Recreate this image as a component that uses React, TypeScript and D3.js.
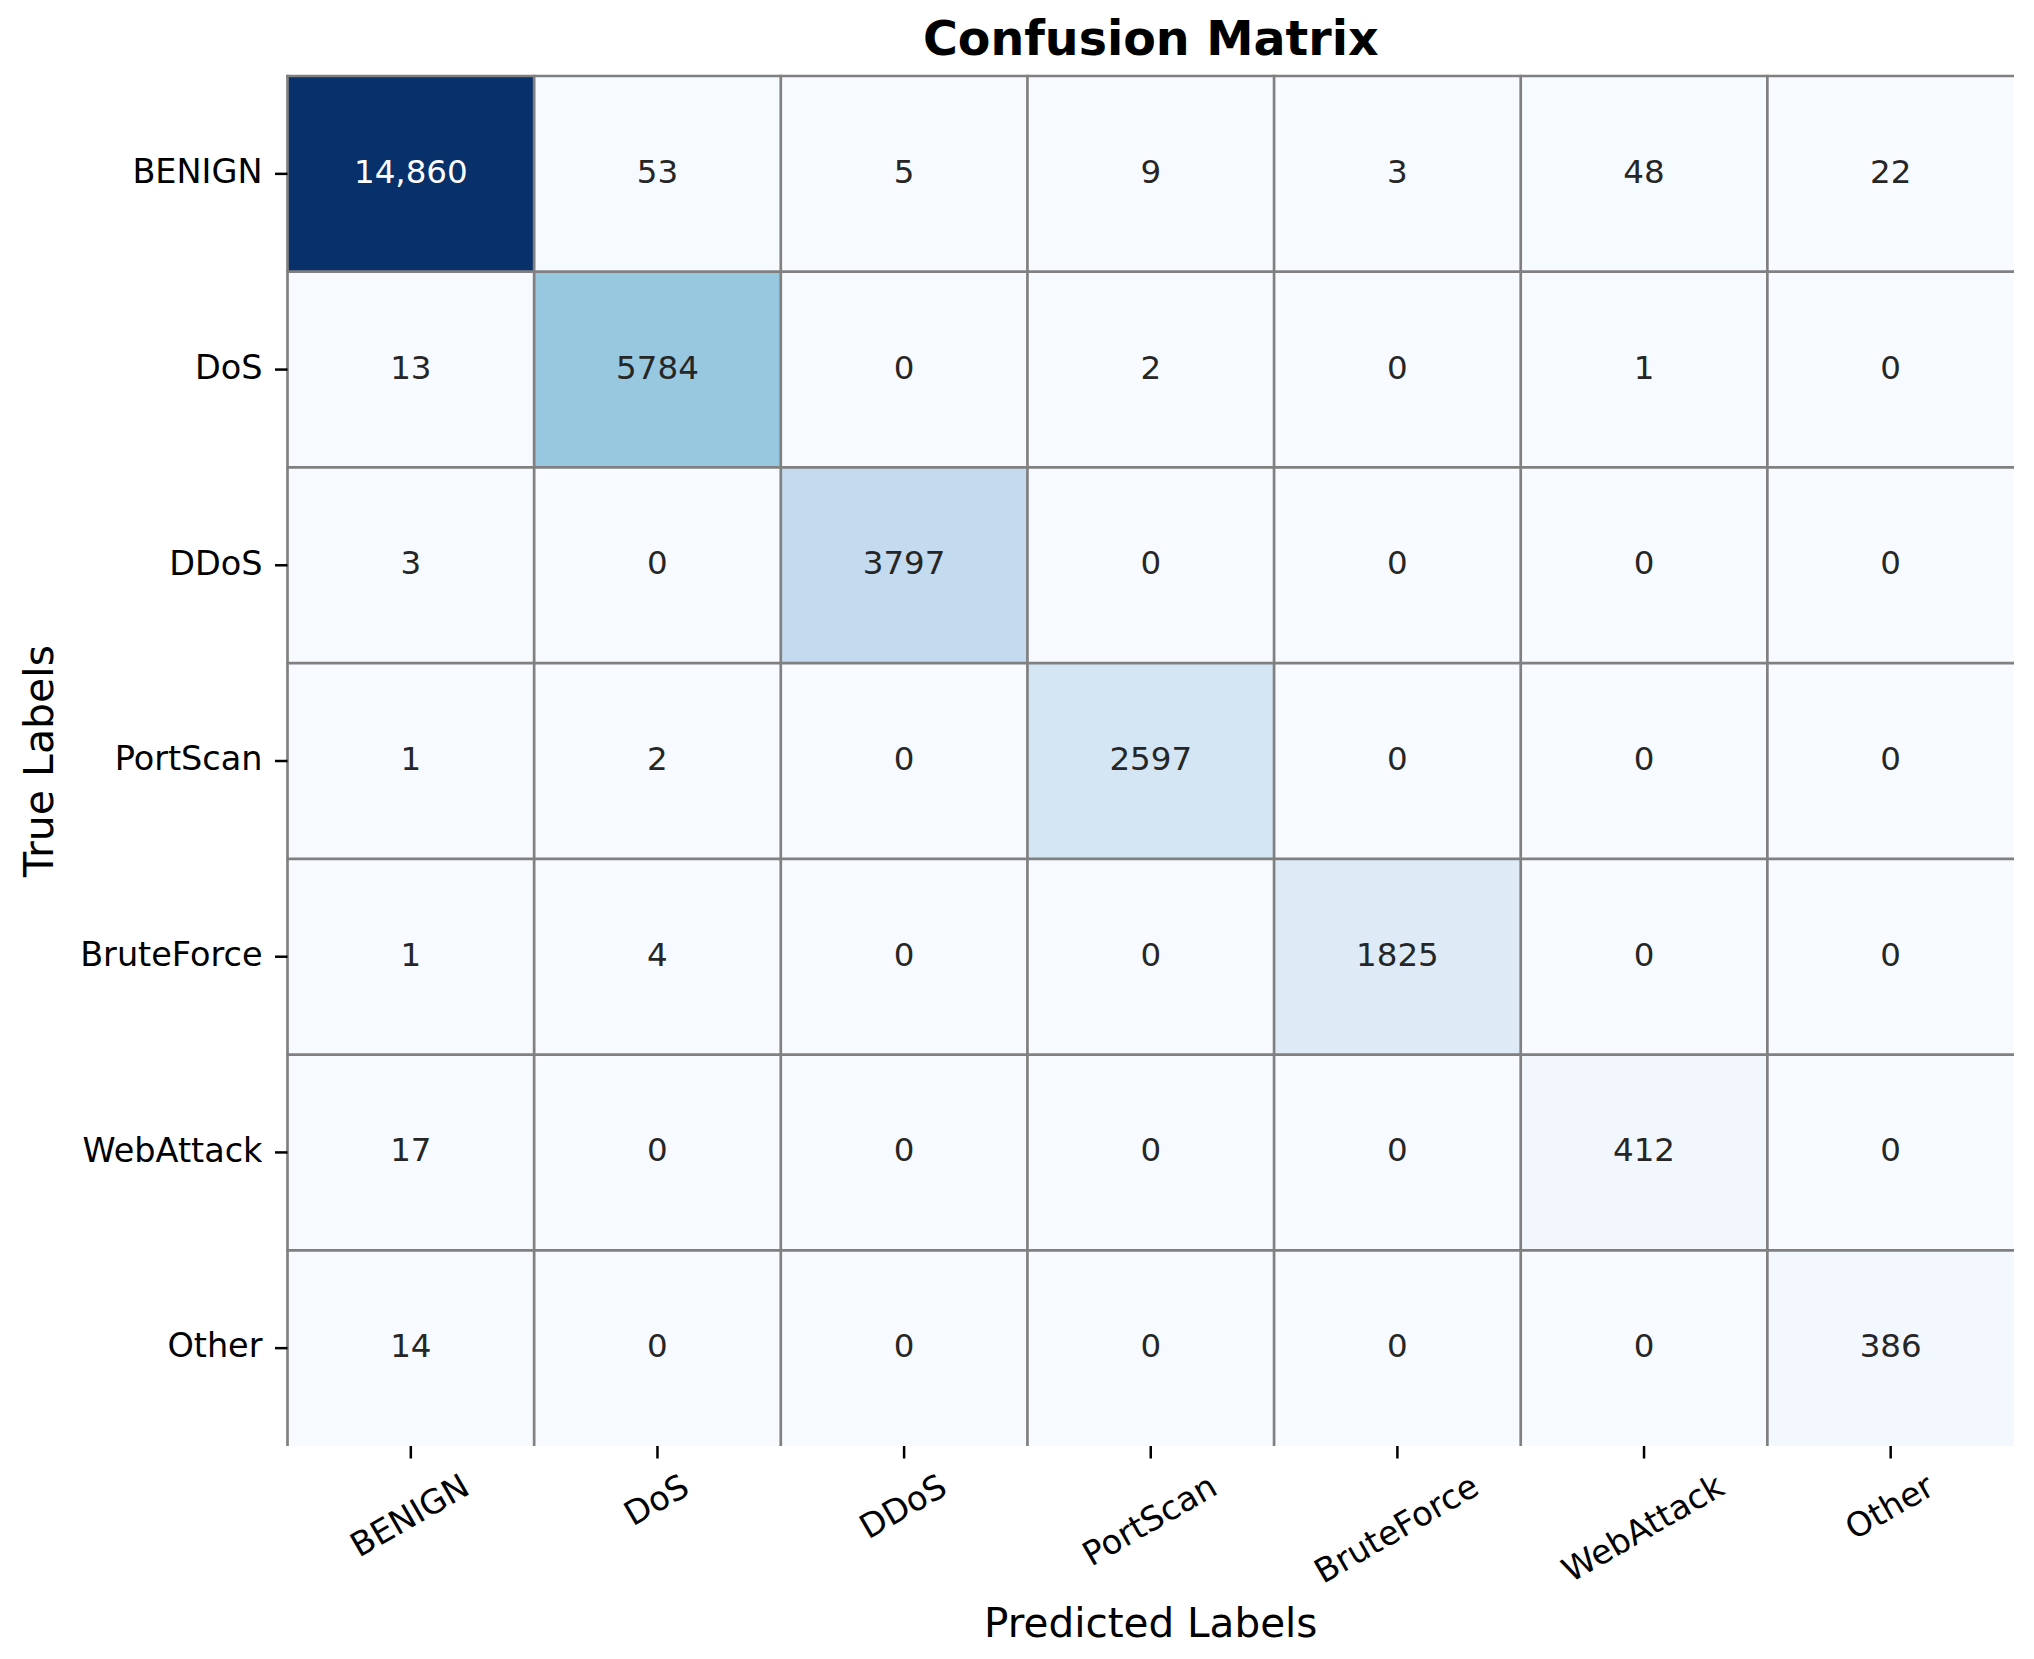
import { useEffect, useRef } from "react";
import * as d3 from "d3";

const classes = ["BENIGN", "DoS", "DDoS", "PortScan", "BruteForce", "WebAttack", "Other"];

// rows = true label, columns = predicted label
const benignRow = [14860, 53, 5, 9, 3, 48, 22];
const dosRow = [13, 5784, 0, 2, 0, 1, 0];
const ddosRow = [3, 0, 3797, 0, 0, 0, 0];
const portScanRow = [1, 2, 0, 2597, 0, 0, 0];
const bruteForceRow = [1, 4, 0, 0, 1825, 0, 0];
const webAttackRow = [17, 0, 0, 0, 0, 412, 0];
const otherRow = [14, 0, 0, 0, 0, 0, 386];

const counts = [benignRow, dosRow, ddosRow, portScanRow, bruteForceRow, webAttackRow, otherRow];

// matplotlib "Blues" stops
const blues = ["#f7fbff", "#deebf7", "#c6dbef", "#9ecae1", "#6baed6", "#4292c6", "#2171b5", "#08519c", "#08306b"];

const FONT = "DejaVu Sans";

const ConfusionMatrix = () => {
  const svgRef = useRef<SVGSVGElement>(null);

  useEffect(() => {
    const width = 2034, height = 1659;
    const left = 287.5, right = 2014, top = 76, bottom = 1446;
    const tickLen = 12.5, pad = 12.5, fs = 32.5, tfs = 33.5;

    const svg = d3.select(svgRef.current).attr("width", width).attr("height", height);
    svg.selectAll("*").remove();

    const x = d3.scaleBand().domain(classes).range([left, right]);
    const y = d3.scaleBand().domain(classes).range([top, bottom]);

    const vmax = d3.max(counts.flat()) as number;
    const color = d3.scaleLinear<string>()
      .domain(blues.map((_, i) => (i / (blues.length - 1)) * vmax))
      .range(blues)
      .interpolate(d3.interpolateRgb);

    const lum = (c: string) => {
      const rgb = d3.rgb(c);
      const f = (v: number) => {
        v /= 255;
        return v <= 0.03928 ? v / 12.92 : Math.pow((v + 0.055) / 1.055, 2.4);
      };
      return 0.2126 * f(rgb.r) + 0.7152 * f(rgb.g) + 0.0722 * f(rgb.b);
    };

    const fmt = (v: number) => (v >= 10000 ? d3.format(",")(v) : String(v));

    const cells = counts.flatMap((row, i) =>
      row.map((v, j) => ({ t: classes[i], p: classes[j], v }))
    );

    svg.append("g")
      .selectAll("rect")
      .data(cells)
      .enter()
      .append("rect")
      .attr("x", d => x(d.p)!)
      .attr("y", d => y(d.t)!)
      .attr("width", x.bandwidth())
      .attr("height", y.bandwidth())
      .attr("fill", d => color(d.v));

    // grid lines (top/left edges and internal ones)
    const grid = svg.append("g").attr("stroke", "#808080").attr("stroke-width", 2.7);
    classes.forEach(c => {
      grid.append("line")
        .attr("x1", x(c)!).attr("x2", x(c)!)
        .attr("y1", top - 1.35).attr("y2", bottom);
      grid.append("line")
        .attr("x1", left - 1.35).attr("x2", right)
        .attr("y1", y(c)!).attr("y2", y(c)!);
    });

    // annotations
    svg.append("g")
      .selectAll("text")
      .data(cells)
      .enter()
      .append("text")
      .attr("x", d => x(d.p)! + x.bandwidth() / 2)
      .attr("y", d => y(d.t)! + y.bandwidth() / 2 + 9)
      .attr("text-anchor", "middle")
      .attr("font-family", FONT)
      .attr("font-size", fs)
      .attr("fill", d => (lum(color(d.v)) > 0.408 ? "#262626" : "#ffffff"))
      .text(d => fmt(d.v));

    // y ticks + labels
    const yAxis = svg.append("g");
    classes.forEach(c => {
      const cy = y(c)! + y.bandwidth() / 2;
      yAxis.append("line")
        .attr("x1", left - tickLen).attr("x2", left)
        .attr("y1", cy).attr("y2", cy)
        .attr("stroke", "#000").attr("stroke-width", 2.5);
      yAxis.append("text")
        .attr("x", left - tickLen - pad)
        .attr("y", cy + 0.276 * tfs)
        .attr("text-anchor", "end")
        .attr("font-family", FONT)
        .attr("font-size", tfs)
        .attr("fill", "#000")
        .text(c);
    });

    // x ticks + rotated labels (matplotlib-style: centred, rotated bbox top at tick end + pad)
    const xAxis = svg.append("g");
    const h = 0.968 * tfs;
    const ang = Math.PI / 6;
    classes.forEach(c => {
      const cx = x(c)! + x.bandwidth() / 2;
      xAxis.append("line")
        .attr("x1", cx).attr("x2", cx)
        .attr("y1", bottom).attr("y2", bottom + tickLen)
        .attr("stroke", "#000").attr("stroke-width", 2.5);
      const t = xAxis.append("text")
        .attr("text-anchor", "middle")
        .attr("font-family", FONT)
        .attr("font-size", tfs)
        .attr("fill", "#000")
        .text(c);
      const w = (t.node() as SVGTextElement).getComputedTextLength();
      const bh = w * Math.sin(ang) + h * Math.cos(ang);
      const cy = bottom + tickLen + pad + bh / 2;
      t.attr("x", cx).attr("y", cy + 0.276 * tfs).attr("transform", `rotate(-30, ${cx}, ${cy})`);
    });

    // axis titles
    const midX = (left + right) / 2;
    svg.append("text")
      .attr("x", midX).attr("y", 1637)
      .attr("text-anchor", "middle")
      .attr("font-family", FONT)
      .attr("font-size", 40.5)
      .text("Predicted Labels");

    svg.append("text")
      .attr("transform", `translate(53, ${(top + bottom) / 2}) rotate(-90)`)
      .attr("text-anchor", "middle")
      .attr("font-family", FONT)
      .attr("font-size", 41)
      .text("True Labels");

    svg.append("text")
      .attr("x", midX).attr("y", 55)
      .attr("text-anchor", "middle")
      .attr("font-family", FONT)
      .attr("font-weight", "bold")
      .attr("font-size", 47.5)
      .text("Confusion Matrix");
  }, []);

  return <svg ref={svgRef} style={{ position: "absolute", left: 0, top: 0, background: "#fff" }} />;
};

export default function App() {
  return <ConfusionMatrix />;
}
